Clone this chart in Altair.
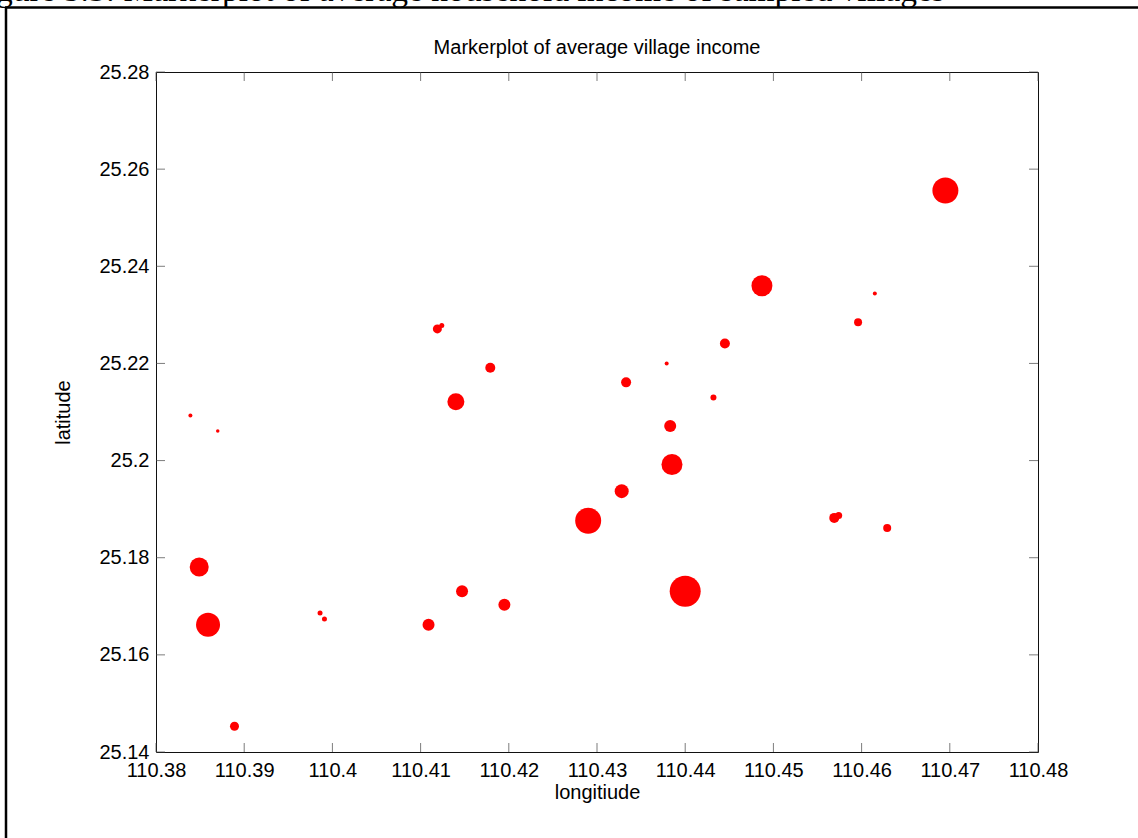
import altair as alt
import pandas as pd

# Sampled villages: longitude, latitude and relative average income (marker scale)
lon = [110.3839, 110.3870, 110.3849, 110.3859, 110.3986, 110.3991, 110.4109,
       110.3889, 110.4147, 110.4195, 110.4119, 110.4124, 110.4179, 110.4140,
       110.4333, 110.4379, 110.4383, 110.4385, 110.4328, 110.4290, 110.4487,
       110.4695, 110.4615, 110.4596, 110.4445, 110.4432, 110.4400, 110.4569,
       110.4574, 110.4629]
lat = [25.2093, 25.2061, 25.1781, 25.1662, 25.1686, 25.1674, 25.1662,
       25.1453, 25.1731, 25.1703, 25.2271, 25.2278, 25.2191, 25.2121,
       25.2161, 25.2200, 25.2071, 25.1992, 25.1937, 25.1876, 25.2360,
       25.2556, 25.2344, 25.2285, 25.2241, 25.2130, 25.1731, 25.1882,
       25.1887, 25.1861]
income = [4, 3.5, 19, 24, 5, 5, 12,
          9, 12, 12, 9, 5, 10, 17,
          10, 4, 12, 21, 14, 26, 21,
          26, 4, 8, 10, 6, 31, 10,
          7, 8]

x_ticks = [110.38, 110.39, 110.40, 110.41, 110.42, 110.43, 110.44, 110.45,
           110.46, 110.47, 110.48]
y_ticks = [25.14, 25.16, 25.18, 25.20, 25.22, 25.24, 25.26, 25.28]

plot_title = "Markerplot of average village income"
caption = "Figure 5.3: Markerplot of average household income of sampled villages"

W, H = 882, 680
FONT = "Liberation Sans"

df = pd.DataFrame({"lon": lon, "lat": lat, "income": income})
xt = pd.DataFrame({"v": x_ticks})
yt = pd.DataFrame({"v": y_ticks})

xscale = alt.Scale(domain=[110.38, 110.48], nice=False, zero=False)
yscale = alt.Scale(domain=[25.14, 25.28], nice=False, zero=False)

xaxis = alt.Axis(values=x_ticks, format=".2~f", title="longitiude",
                 ticks=False, domain=False, grid=False,
                 labelFlush=False, labelOverlap=False,
                 labelPadding=8, titlePadding=2,
                 labelFont=FONT, titleFont=FONT, labelFontSize=20,
                 titleFontSize=20, titleFontWeight="normal",
                 labelColor="black", titleColor="black")
yaxis = alt.Axis(values=y_ticks, format=".2~f", title="latitude",
                 ticks=False, domain=False, grid=False,
                 labelFlush=False, labelOverlap=False,
                 labelPadding=7, titlePadding=25,
                 labelFont=FONT, titleFont=FONT, labelFontSize=20,
                 titleFontSize=20, titleFontWeight="normal",
                 labelColor="black", titleColor="black")

points = alt.Chart(df).mark_circle(color="#ff0000", opacity=1).encode(
    x=alt.X("lon:Q", scale=xscale, axis=xaxis),
    y=alt.Y("lat:Q", scale=yscale, axis=yaxis),
    size=alt.Size("income:Q", legend=None,
                  scale=alt.Scale(type="pow", exponent=2, domain=[0, 32],
                                  range=[0, 1024])),
)

# Inward-pointing tick marks on all four sides of the box
tick_style = dict(color="#444444", thickness=1, size=9)
bottom = alt.Chart(xt).mark_tick(orient="vertical", **tick_style).encode(
    x=alt.X("v:Q", scale=xscale, axis=xaxis), y=alt.value(H - 4.5))
top = alt.Chart(xt).mark_tick(orient="vertical", **tick_style).encode(
    x=alt.X("v:Q", scale=xscale, axis=xaxis), y=alt.value(4.5))
left = alt.Chart(yt).mark_tick(orient="horizontal", **tick_style).encode(
    y=alt.Y("v:Q", scale=yscale, axis=yaxis), x=alt.value(4.5))
right = alt.Chart(yt).mark_tick(orient="horizontal", **tick_style).encode(
    y=alt.Y("v:Q", scale=yscale, axis=yaxis), x=alt.value(W - 4.5))

# Plot heading above the box
heading = alt.Chart(pd.DataFrame({"t": [plot_title]})).mark_text(
    align="center", baseline="alphabetic", font=FONT, fontSize=20,
    color="black").encode(
    x=alt.value(W / 2), y=alt.value(-18), text="t:N")

# Page frame and the figure caption above it
one = pd.DataFrame({"k": [0]})
frame_left = alt.Chart(one).mark_rule(color="black", strokeWidth=2.5).encode(
    x=alt.value(-150), y=alt.value(-64.5), y2=alt.value(766))
frame_top = alt.Chart(one).mark_rule(color="black", strokeWidth=2.5).encode(
    x=alt.value(-151), x2=alt.value(982), y=alt.value(-64.5))
cap = alt.Chart(pd.DataFrame({"t": [caption]})).mark_text(
    align="left", baseline="alphabetic", font="Liberation Serif",
    fontSize=33.5, color="black").encode(
    x=alt.value(-188), y=alt.value(-71), text="t:N")

chart = alt.layer(
    points, bottom, top, left, right, heading, frame_left, frame_top, cap
).properties(
    width=W, height=H,
    background="white",
    autosize=alt.AutoSizeParams(type="none"),
    padding={"left": 156, "top": 72, "right": 100, "bottom": 86},
).configure_view(
    stroke="#111111", strokeWidth=1
)

chart.save("out.html", embed_options={"renderer": "svg", "actions": False})
